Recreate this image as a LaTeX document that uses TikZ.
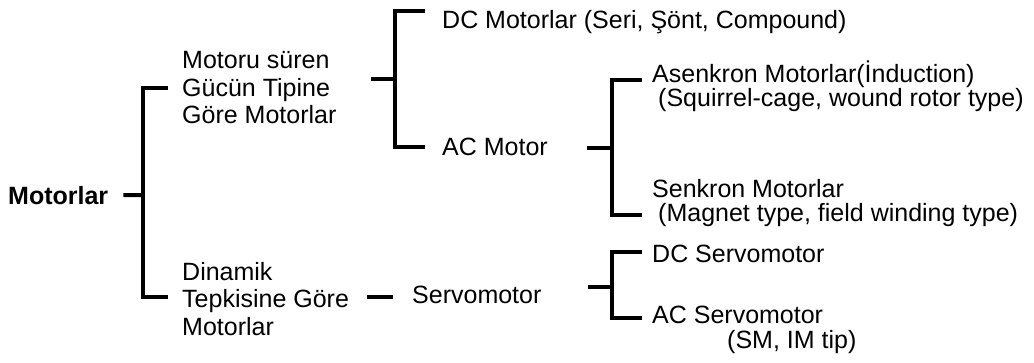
\documentclass[tikz,border=0pt]{standalone}
\usepackage{fontspec}
\setmainfont{Liberation Sans}
\usetikzlibrary{positioning}

\begin{document}
\begin{tikzpicture}[x=1pt, y=-1pt,
		lbl/.style={anchor=base west, inner sep=0pt, align=left, font=\fontsize{25}{27.5}\selectfont},
		br/.style={line width=4pt}
		]
		\useasboundingbox (0,0) rectangle (1034,362);
		\node[lbl, font=\fontsize{25}{27.5}\selectfont\bfseries] (mot) at (8,204) {Motorlar};
		\node[lbl] (guc) at (182,123.5) {Motoru süren\\Gücün Tipine\\Göre Motorlar};
		\node[lbl] (din) at (182,335) {Dinamik\\Tepkisine Göre\\Motorlar};
		\node[lbl] (dcm) at (442,28.5) {DC Motorlar (Seri, Şönt, Compound)};
		\node[lbl] (acm) at (442,155.5) {AC Motor};
		\node[lbl] (servo) at (412,303) {Servomotor};
		\node[lbl] (asn) at (652,106) {Asenkron Motorlar(İnduction)\\[-3.5pt]\hspace*{6pt}(Squirrel-cage, wound rotor type)};
		\node[lbl] (snk) at (652,221) {Senkron Motorlar\\[-3.5pt]\hspace*{6pt}(Magnet type, field winding type)};
		\node[lbl] (dcs) at (652,262) {DC Servomotor};
		\node[lbl] (acs) at (652,348) {AC Servomotor\\[-2.5pt]\hspace*{75pt}(SM, IM tip)};
		% bracket joints and arm ends
		\coordinate (jA) at (143,195); \coordinate (aT) at (168,88);  \coordinate (aB) at (168,297);
		\coordinate (jB) at (395,79);  \coordinate (bT) at (425,11);  \coordinate (bB) at (425,147);
		\coordinate (jC) at (612,148); \coordinate (cT) at (642,80);  \coordinate (cB) at (642,215);
		\coordinate (jD) at (393,297);
		\coordinate (jE) at (612,287); \coordinate (eT) at (642,252); \coordinate (eB) at (642,318);
		\draw[br] ([xshift=15pt]mot.east) -- (jA);
		\draw[br] (aT) -| (jA) |- (aB);
		\draw[br] ([xshift=34pt]guc.east |- jB) -- (jB);
		\draw[br] (bT) -| (jB) |- (bB);
		\draw[br] ([xshift=39pt]acm.east |- jC) -- (jC);
		\draw[br] (cT) -| (jC) |- (cB);
		\draw[br] ([xshift=18pt]din.east |- jD) -- (jD);
		\draw[br] ([xshift=46pt]servo.east |- jE) -- (jE);
		\draw[br] (eT) -| (jE) |- (eB);
\end{tikzpicture}
\end{document}
